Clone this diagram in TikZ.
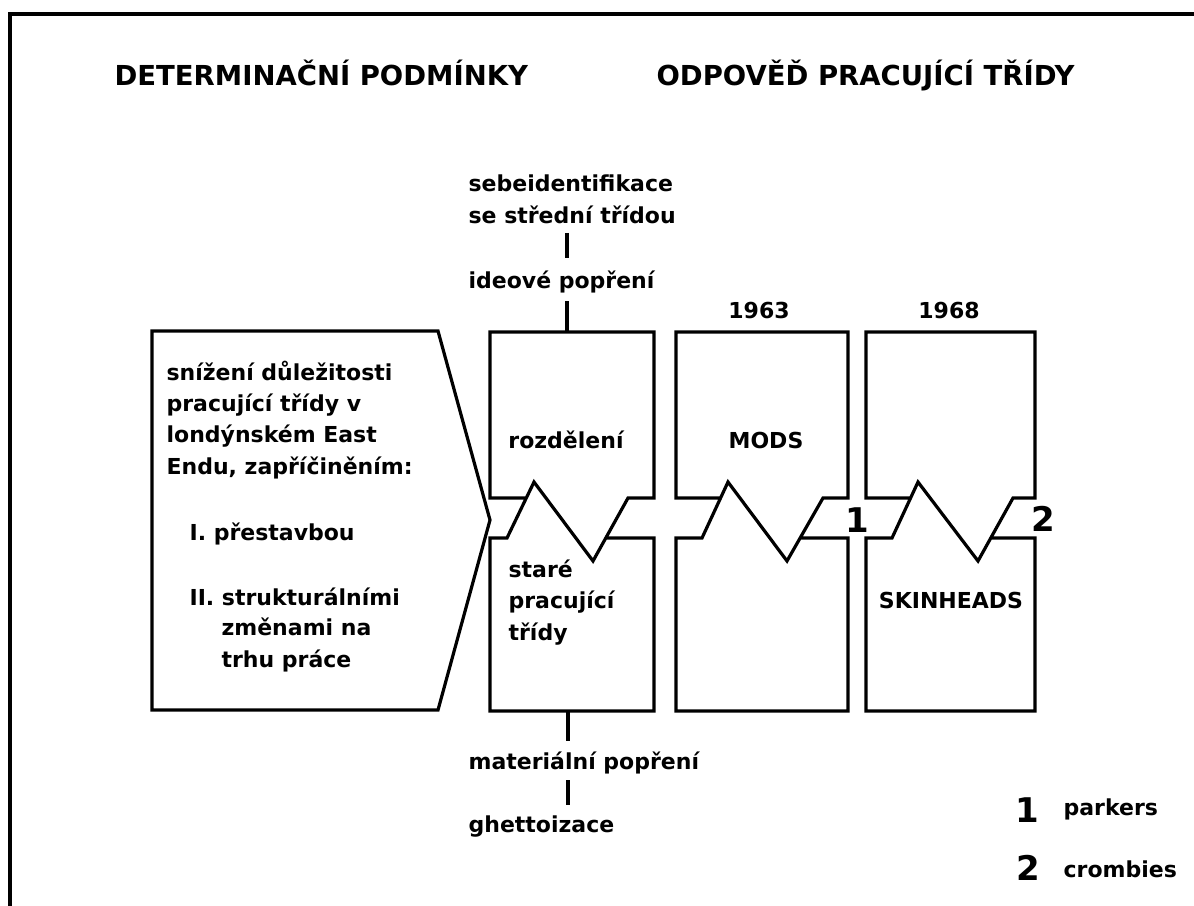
\documentclass[tikz,border=0pt]{standalone}
\usepackage{fontspec}
\setmainfont{DejaVu Sans}
\newcommand\txtfont{\fontsize{22}{31.3}\selectfont\bfseries}
\newcommand\headfont{\fontsize{27.5}{32}\selectfont\bfseries}
\newcommand\numfont{\fontsize{34}{38}\selectfont\bfseries}
\begin{document}
\begin{tikzpicture}[x=1pt,y=-1pt,line width=3.2pt,line join=miter,
    txt/.style={font=\txtfont,inner sep=0pt,anchor=base west,align=left},
    mid/.style={font=\txtfont,inner sep=0pt,anchor=base},
    head/.style={font=\headfont,inner sep=0pt,anchor=base west},
    num/.style={font=\numfont,inner sep=0pt,anchor=base}]
    \useasboundingbox (0,0) rectangle (1194,905);
    \draw[line width=3.5pt] (10,910) -- (10,14) -- (1200,14);
    % headings
    \node[head] (hdet) at (113,85) {DETERMINAČNÍ PODMÍNKY};
    \node[head] (hodp) at (655,85) {ODPOVĚĎ PRACUJÍCÍ TŘÍDY};
    % left arrow box
    \draw (152,331) -- (438,331) -- (490,520) -- (438,710) -- (152,710) -- cycle;
    \node[txt] (duvod) at (165,474) {snížení důležitosti\\pracující třídy v\\londýnském East\\Endu, zapříčiněním:};
    \node[txt] (prest) at (188,540) {I. přestavbou};
    \node[txt] (strukt) at (188,605) {II. strukturálními};
    \node[txt] (zmeny) at (220,667) {změnami na\\trhu práce};
    % three split boxes
    \foreach \l/\r/\s/\p/\v/\u in {490/654/507/534/593/628, 676/848/702/728/787/823, 866/1035/892/918/978/1013}{
        \draw ({\s+0.714*(\p-\s)},498) -- (\l,498) -- (\l,332) -- (\r,332) -- (\r,498) -- (\u,498)
            -- (\v,561) -- (\p,482) -- (\s,538) -- (\l,538) -- (\l,711) -- (\r,711) -- (\r,538)
            -- ({\v+0.365*(\u-\v)},538);
    }
    \coordinate (b1n) at (567,332); \coordinate (b1s) at (568,711);
    \node[mid] (rozd) at (566,448) {rozdělení};
    \node[txt] (stare) at (507,640) {staré\\pracující\\třídy};
    \node[mid] (mods) at (766,448) {MODS};
    \node[mid] (skin) at (951,608) {SKINHEADS};
    \node[mid] (r63) at (759,318) {1963};
    \node[mid] (r68) at (949,318) {1968};
    \node[num] (n1) at (857,532) {1};
    \node[num] (n2) at (1043,531) {2};
    % upper and lower chain
    \node[txt] (sebe) at (467,223) {sebeidentifikace\\se střední třídou};
    \node[txt] (ideo) at (467,288) {ideové popření};
    \node[txt] (mat) at (467,769) {materiální popření};
    \node[txt] (ghet) at (467,832) {ghettoizace};
    \draw ([yshift=-8pt]sebe.south -| b1n) -- ([yshift=11pt]ideo.north -| b1n);
    \draw ([yshift=-7pt]ideo.south -| b1n) -- (b1n);
    \draw (b1s) -- ([yshift=9pt]mat.north -| b1s);
    \draw ([yshift=-5pt]mat.south -| b1s) -- ([yshift=9pt]ghet.north -| b1s);
    % legend
    \node[num] (k1) at (1027,822) {1};
    \node[txt] (parkers) at (1062,815) {parkers};
    \node[num] (k2) at (1028,880) {2};
    \node[txt] (crombies) at (1062,877) {crombies};
\end{tikzpicture}
\end{document}
